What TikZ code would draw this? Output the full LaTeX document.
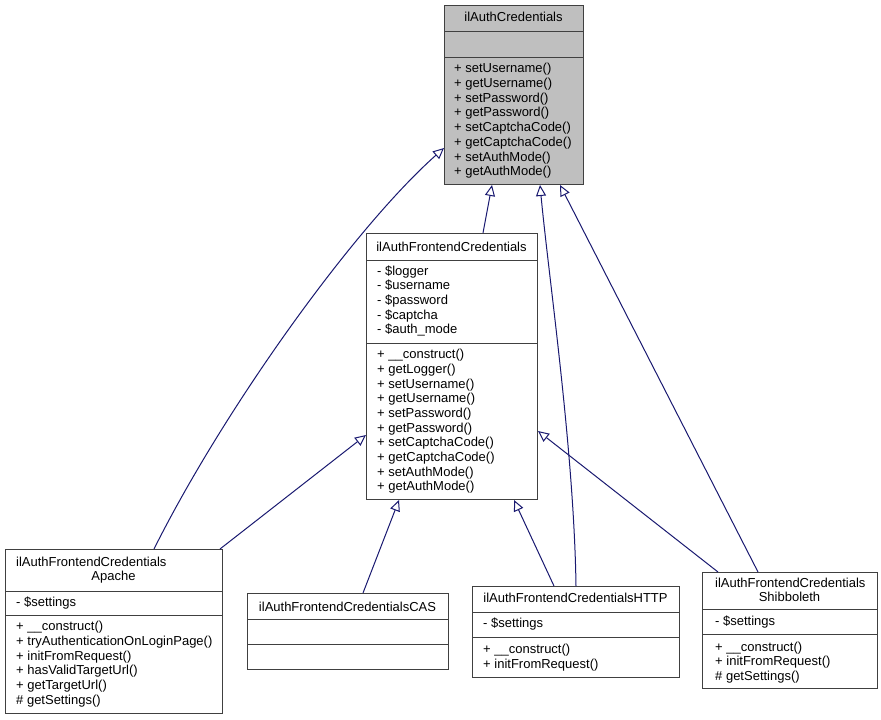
\documentclass[tikz,border=0pt]{standalone}
\usepackage{fontspec}
\setmainfont{Liberation Sans}
\usetikzlibrary{arrows.meta}
\definecolor{edgeblue}{RGB}{25,25,112}
\definecolor{boxline}{RGB}{64,64,64}
\definecolor{basefill}{RGB}{191,191,191}
\newcommand{\clsfont}{\fontsize{13}{14.7}\selectfont}
\begin{document}
\begin{tikzpicture}[x=1pt,y=-1pt,
  box/.style={draw=boxline, line width=1pt, anchor=north west, inner sep=0pt, fill=white},
  sepline/.style={draw=boxline, line width=1pt},
  ttl/.style={anchor=base, inner sep=0pt, font=\clsfont},
  ttlw/.style={anchor=base west, inner sep=0pt, font=\clsfont},
  txt/.style={anchor=north west, inner sep=0pt, align=left, font=\clsfont},
  inh/.style={draw=edgeblue, line width=1pt, -{Triangle[length=11pt,width=10pt,fill=white]}}]
\useasboundingbox (0,0) rectangle (881,720);

% ---------- boxes ----------
\node[box, fill=basefill, minimum width=139, minimum height=179] (ac) at (444,5) {};
\node[box, minimum width=171, minimum height=266] (fc) at (366,233) {};
\node[box, minimum width=217, minimum height=164] (ap) at (5,549) {};
\node[box, minimum width=201, minimum height=76] (cas) at (247,593) {};
\node[box, minimum width=207, minimum height=91] (ht) at (472,586) {};
\node[box, minimum width=175, minimum height=116] (sh) at (702,572) {};

% ---------- separators ----------
\draw[sepline] (ac.west |- 0,31) -- (ac.east |- 0,31);
\draw[sepline] (ac.west |- 0,57) -- (ac.east |- 0,57);
\draw[sepline] (fc.west |- 0,260) -- (fc.east |- 0,260);
\draw[sepline] (fc.west |- 0,343) -- (fc.east |- 0,343);
\draw[sepline] (ap.west |- 0,591) -- (ap.east |- 0,591);
\draw[sepline] (ap.west |- 0,615) -- (ap.east |- 0,615);
\draw[sepline] (cas.west |- 0,619) -- (cas.east |- 0,619);
\draw[sepline] (cas.west |- 0,644) -- (cas.east |- 0,644);
\draw[sepline] (ht.west |- 0,612) -- (ht.east |- 0,612);
\draw[sepline] (ht.west |- 0,637) -- (ht.east |- 0,637);
\draw[sepline] (sh.west |- 0,609) -- (sh.east |- 0,609);
\draw[sepline] (sh.west |- 0,634) -- (sh.east |- 0,634);

% ---------- texts ----------
% ilAuthCredentials
\node[ttl] (acT) at (513.5,21) {ilAuthCredentials};
\node[txt] (acM) at (454,62.4) {\strut+ setUsername()\\+ getUsername()\\+ setPassword()\\+ getPassword()\\+ setCaptchaCode()\\+ getCaptchaCode()\\+ setAuthMode()\\+ getAuthMode()};

% ilAuthFrontendCredentials
\node[ttl] (fcT) at (451.5,251) {ilAuthFrontendCredentials};
\node[txt] (fcA) at (377,264.7) {\strut- \$logger\\- \$username\\- \$password\\- \$captcha\\- \$auth\_mode};
\node[txt] (fcM) at (377,348.2) {\strut+ \_\_construct()\\+ getLogger()\\+ setUsername()\\+ getUsername()\\+ setPassword()\\+ getPassword()\\+ setCaptchaCode()\\+ getCaptchaCode()\\+ setAuthMode()\\+ getAuthMode()};

% Apache
\node[ttlw] (apT1) at (16,566.5) {ilAuthFrontendCredentials};
\node[ttl] (apT2) at (113.5,580.5) {Apache};
\node[txt] (apA) at (16,596.2) {\strut- \$settings};
\node[txt] (apM) at (16,620.2) {\strut+ \_\_construct()\\+ tryAuthenticationOnLoginPage()\\+ initFromRequest()\\+ hasValidTargetUrl()\\+ getTargetUrl()\\\# getSettings()};

% CAS
\node[ttl] (casT) at (347.5,611) {ilAuthFrontendCredentialsCAS};

% HTTP
\node[ttl] (htT) at (575.5,602.5) {ilAuthFrontendCredentialsHTTP};
\node[txt] (htA) at (483,617.2) {\strut- \$settings};
\node[txt] (htM) at (483,643.2) {\strut+ \_\_construct()\\+ initFromRequest()};

% Shibboleth
\node[ttlw] (shT1) at (715,587.5) {ilAuthFrontendCredentials};
\node[ttl] (shT2) at (789.5,601.5) {Shibboleth};
\node[txt] (shA) at (715,615.2) {\strut- \$settings};
\node[txt] (shM) at (715,640.7) {\strut+ \_\_construct()\\+ initFromRequest()\\\# getSettings()};

% ---------- inheritance edges ----------
\draw[inh] ([xshift=149pt]ap.north west) .. controls (224,409) and (353,229) .. ([yshift=-143pt]ac.north west);
\draw[inh] ([xshift=117pt]fc.north west) -- ([xshift=48pt]ac.south west);
\draw[inh] ([xshift=104pt]ht.north west) .. controls (574,450) and (549,280) .. ([xshift=96pt]ac.south west);
\draw[inh] ([xshift=56pt]sh.north west) -- ([xshift=116pt]ac.south west);
\draw[inh] ([xshift=215pt]ap.north west) -- ([yshift=-202pt]fc.north west);
\draw[inh] ([xshift=116pt]cas.north west) -- ([xshift=33pt]fc.south west);
\draw[inh] ([xshift=82pt]ht.north west) -- ([xshift=148pt]fc.south west);
\draw[inh] ([xshift=16pt]sh.north west) -- ([yshift=-198pt]fc.north east);
\end{tikzpicture}
\end{document}
